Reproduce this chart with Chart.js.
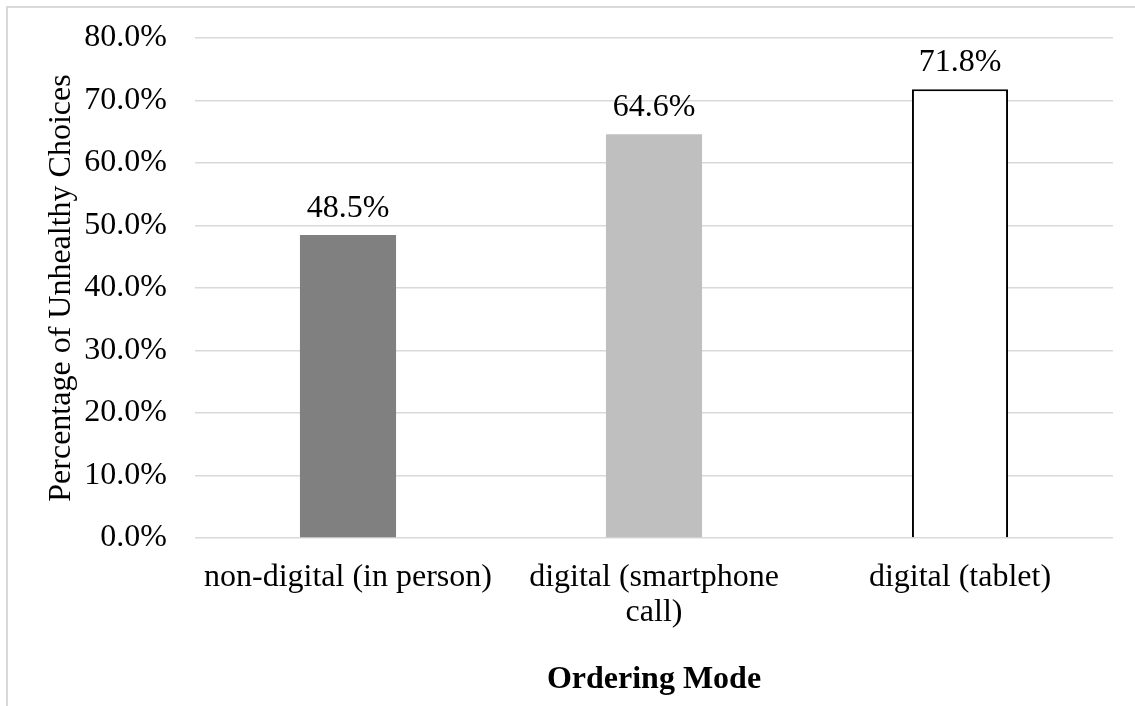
<!DOCTYPE html>
<html>
<head>
<meta charset="utf-8">
<title>Percentage of Unhealthy Choices by Ordering Mode</title>
<script src="https://cdn.jsdelivr.net/npm/chart.js@4/dist/chart.umd.min.js"></script>
<style>
  html, body { margin: 0; padding: 0; background: #fff; overflow: hidden; }
  #wrap { position: relative; width: 1135px; height: 706px; }
  #frame {
    position: absolute; left: 6px; top: 6px; width: 1200px; height: 800px;
    border: 2px solid #d9d9d9; box-sizing: border-box; pointer-events: none;
  }
  canvas { position: absolute; left: 0; top: 0; }
</style>
</head>
<body>
<div id="wrap">
  <canvas id="chart" width="1135" height="706"></canvas>
  <div id="frame"></div>
</div>
<script>
// Ordering modes and the share of unhealthy choices (%) for each
const categories = ['non-digital (in person)', ['digital (smartphone', 'call)'], 'digital (tablet)'];
const unhealthyPct = [48.5, 64.6, 71.8];
const barFills = ['#808080', '#bfbfbf', '#ffffff'];
const barBorders = ['#808080', '#bfbfbf', '#000000'];
const barBorderWidths = [0, 0, 2];
const yTickMin = 0;
const yTickMax = 80;
const yTickStep = 10;

const FONT = "'Liberation Serif', 'Times New Roman', serif";
const TEXT = '#000000';
const SIZE = 32;

// Writes each bar's value above it
const valueLabels = {
  id: 'valueLabels',
  afterDatasetsDraw(chart) {
    const ctx = chart.ctx;
    const meta = chart.getDatasetMeta(0);
    ctx.save();
    ctx.font = SIZE + 'px ' + FONT;
    ctx.fillStyle = TEXT;
    ctx.textAlign = 'center';
    ctx.textBaseline = 'alphabetic';
    meta.data.forEach((bar, i) => {
      const v = chart.data.datasets[0].data[i];
      ctx.fillText(v.toFixed(1) + '%', bar.x, bar.y - 18);
    });
    ctx.restore();
  }
};

new Chart(document.getElementById('chart'), {
  type: 'bar',
  data: {
    labels: categories,
    datasets: [{
      data: unhealthyPct,
      backgroundColor: barFills,
      borderColor: barBorders,
      borderWidth: barBorderWidths,
      borderSkipped: 'start',
      categoryPercentage: 1,
      barPercentage: 0.314
    }]
  },
  options: {
    responsive: false,
    animation: false,
    layout: { padding: { left: 0, right: 22, top: 38, bottom: 0 } },
    plugins: {
      legend: { display: false },
      tooltip: { enabled: false }
    },
    scales: {
      x: {
        grid: { display: false, drawTicks: false },
        border: { display: false },
        ticks: {
          color: TEXT,
          padding: 22,
          maxRotation: 0,
          autoSkip: false,
          font: { family: FONT, size: SIZE, lineHeight: 1.1 }
        },
        title: {
          display: true,
          text: 'Ordering Mode',
          color: TEXT,
          font: { family: FONT, size: SIZE, weight: 'bold' },
          padding: { top: 0, bottom: 7 }
        },
        afterFit(scale) { scale.height = 168; scale.paddingLeft = 0; scale.paddingRight = 0; }
      },
      y: {
        min: yTickMin,
        max: yTickMax,
        grid: { color: '#d9d9d9', lineWidth: 1.5, drawTicks: false },
        border: { display: false },
        ticks: {
          stepSize: yTickStep,
          color: TEXT,
          padding: 28,
          font: { family: FONT, size: SIZE },
          callback: (v) => Number(v).toFixed(1) + '%'
        },
        title: {
          display: true,
          text: 'Percentage of Unhealthy Choices',
          color: TEXT,
          font: { family: FONT, size: SIZE },
          padding: { top: 42, bottom: 0 }
        },
        afterFit(scale) { scale.width = 195; scale.paddingTop = 0; scale.paddingBottom = 0; }
      }
    }
  },
  plugins: [valueLabels]
});
</script>
</body>
</html>
